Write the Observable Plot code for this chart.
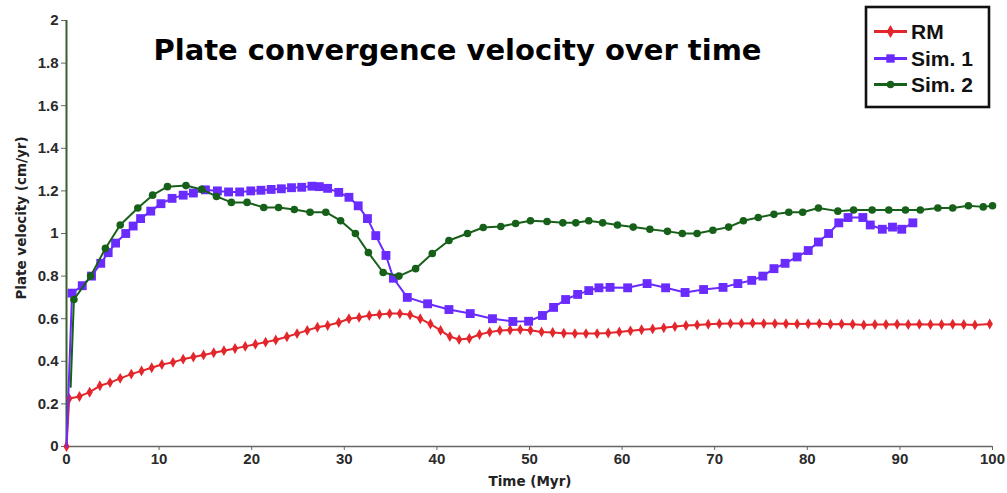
<!DOCTYPE html>
<html>
<head>
<meta charset="utf-8">
<script src="https://cdn.jsdelivr.net/npm/d3@7"></script>
<script src="https://cdn.jsdelivr.net/npm/@observablehq/plot@0.6"></script>
<style>
  body { margin: 0; background: white; }
  #wrap { position: relative; width: 1007px; height: 493px; }
  #title { position: absolute; left: 0; width: 915px; top: 36px; text-align: center;
           font: bold 29px "DejaVu Sans", sans-serif; line-height: 1; color: #000; white-space: nowrap; }
  #overlay { position: absolute; left: 0; top: 0; pointer-events: none; }
</style>
</head>
<body>
<div id="wrap">
  <div id="chart"></div>
  <div id="title">Plate convergence velocity over time</div>
  <svg id="overlay" width="1007" height="493"></svg>
</div>
<script>
// ---- data ----
const seriesNames = ["RM", "Sim. 1", "Sim. 2"];
const seriesColors = ["#e3262b", "#6a2bff", "#17601a"];
const xLabel = "Time (Myr)";
const yLabel = "Plate velocity (cm/yr)";

const rmTime = [0, 0.3, 1.4, 2.5, 3.6, 4.7, 5.8, 7.0, 8.1, 9.2, 10.3, 11.5, 12.6, 13.7, 14.8, 15.9, 17.0, 18.2, 19.3, 20.4, 21.5, 22.6, 23.8, 24.9, 26.0, 27.1, 28.2, 29.4, 30.5, 31.6, 32.7, 33.8, 34.9, 36.0, 37.1, 38.2, 39.3, 40.4, 41.4, 42.4, 43.5, 44.6, 45.7, 46.8, 47.9, 49.0, 50.1, 51.3, 52.5, 53.7, 54.9, 56.1, 57.3, 58.5, 59.7, 60.9, 62.1, 63.3, 64.5, 65.7, 66.9, 68.1, 69.3, 70.5, 71.7, 72.9, 74.1, 75.3, 76.5, 77.7, 78.9, 80.1, 81.3, 82.5, 83.7, 84.9, 86.1, 87.3, 88.5, 89.7, 90.9, 92.1, 93.3, 94.5, 95.7, 96.9, 98.1, 99.7];
const rmVel = [0, 0.225, 0.235, 0.255, 0.285, 0.30, 0.32, 0.34, 0.355, 0.37, 0.385, 0.395, 0.41, 0.42, 0.43, 0.44, 0.45, 0.46, 0.47, 0.48, 0.49, 0.50, 0.515, 0.53, 0.545, 0.56, 0.568, 0.582, 0.60, 0.606, 0.615, 0.62, 0.624, 0.624, 0.618, 0.60, 0.575, 0.545, 0.516, 0.502, 0.507, 0.526, 0.537, 0.545, 0.547, 0.549, 0.546, 0.538, 0.535, 0.532, 0.53, 0.53, 0.53, 0.533, 0.538, 0.543, 0.548, 0.552, 0.557, 0.563, 0.568, 0.571, 0.574, 0.576, 0.577, 0.578, 0.579, 0.577, 0.577, 0.576, 0.575, 0.576, 0.577, 0.574, 0.575, 0.574, 0.571, 0.573, 0.573, 0.574, 0.573, 0.574, 0.573, 0.573, 0.574, 0.573, 0.571, 0.575];

const sim1Time = [0, 0.6, 1.7, 2.7, 3.7, 4.5, 5.3, 6.4, 7.2, 8.0, 9.1, 10.2, 11.4, 12.6, 13.7, 15.0, 16.3, 17.5, 18.7, 19.9, 21.0, 22.1, 23.2, 24.3, 25.4, 26.5, 27.3, 28.2, 29.4, 30.5, 31.5, 32.5, 33.4, 34.5, 35.3, 36.8, 39.0, 41.3, 43.6, 46.0, 48.2, 49.9, 51.4, 52.6, 53.9, 55.2, 56.4, 57.5, 58.7, 60.6, 62.7, 64.7, 66.8, 68.8, 70.9, 72.5, 74.0, 75.2, 76.4, 77.6, 78.9, 80.1, 81.2, 82.3, 83.4, 84.4, 86.0, 86.8, 88.1, 89.2, 90.2, 91.4];
const sim1Vel = [0, 0.72, 0.755, 0.80, 0.86, 0.91, 0.955, 1.0, 1.035, 1.07, 1.105, 1.14, 1.165, 1.18, 1.19, 1.205, 1.20, 1.195, 1.195, 1.20, 1.203, 1.207, 1.21, 1.215, 1.217, 1.222, 1.22, 1.212, 1.193, 1.17, 1.13, 1.07, 0.99, 0.897, 0.79, 0.70, 0.67, 0.643, 0.624, 0.60, 0.587, 0.588, 0.615, 0.653, 0.69, 0.714, 0.732, 0.745, 0.747, 0.745, 0.765, 0.745, 0.723, 0.737, 0.747, 0.765, 0.78, 0.80, 0.835, 0.86, 0.89, 0.92, 0.96, 1.0, 1.05, 1.075, 1.075, 1.04, 1.02, 1.03, 1.02, 1.05];

const sim2Time = [0.45, 0.8, 2.6, 4.2, 5.8, 7.7, 9.3, 10.9, 12.9, 14.6, 16.2, 17.8, 19.5, 21.3, 22.9, 24.6, 26.3, 28.0, 29.6, 31.2, 32.6, 34.2, 35.9, 37.7, 39.5, 41.3, 43.3, 45.0, 46.9, 48.5, 50.1, 51.9, 53.6, 55.0, 56.4, 57.9, 59.5, 61.2, 63.0, 64.9, 66.5, 68.1, 69.8, 71.5, 73.1, 74.7, 76.4, 78.0, 79.5, 81.2, 83.3, 85.0, 87.0, 88.8, 90.6, 92.2, 94.1, 95.7, 97.4, 99.0, 100];
const sim2Vel = [0.28, 0.69, 0.80, 0.93, 1.04, 1.12, 1.18, 1.22, 1.225, 1.207, 1.174, 1.146, 1.146, 1.122, 1.122, 1.113, 1.10, 1.10, 1.06, 1.0, 0.91, 0.817, 0.80, 0.835, 0.906, 0.967, 1.0, 1.028, 1.033, 1.047, 1.06, 1.056, 1.05, 1.05, 1.06, 1.05, 1.04, 1.03, 1.02, 1.01, 1.0, 1.0, 1.015, 1.03, 1.06, 1.075, 1.09, 1.10, 1.10, 1.12, 1.105, 1.11, 1.11, 1.11, 1.11, 1.11, 1.12, 1.12, 1.13, 1.125, 1.13];

const xTicks = [0, 10, 20, 30, 40, 50, 60, 70, 80, 90, 100];
const yTicks = [0, 0.2, 0.4, 0.6, 0.8, 1, 1.2, 1.4, 1.6, 1.8, 2];

// ---- build tables ----
const rm = rmTime.map((t, i) => ({t, v: rmVel[i]}));
const sim1 = sim1Time.map((t, i) => ({t, v: sim1Vel[i]}));
const sim2 = sim2Time.map((t, i) => ({t, v: sim2Vel[i]}));

const W = 1007, H = 493, mL = 66, mR = 15, mT = 20, mB = 47;

const chart = Plot.plot({
  width: W,
  height: H,
  marginLeft: mL,
  marginRight: mR,
  marginTop: mT,
  marginBottom: mB,
  style: {fontFamily: "'Liberation Sans', Arial, sans-serif", fontSize: "15px", fontWeight: "bold", color: "#2a2a2a", background: "white", overflow: "visible"},
  x: {domain: [0, 100]},
  y: {domain: [0, 2]},
  marks: [
    Plot.ruleY([0], {stroke: "#666", strokeWidth: 1.5}),
    Plot.axisX({ticks: xTicks, tickSize: 4, tickPadding: 3, stroke: "#666", label: null, fontSize: 15}),
    Plot.axisY({ticks: yTicks, tickSize: 5, tickPadding: 3, stroke: "#666", tickFormat: d => String(d), label: null, fontSize: 15}),
    Plot.ruleX([0], {stroke: "#3b5f2e", strokeWidth: 2}),
    Plot.line(rm, {x: "t", y: "v", stroke: seriesColors[0], strokeWidth: 2}),
    Plot.dot(rm, {x: "t", y: "v", symbol: "diamond", r: 3.3, fill: seriesColors[0]}),
    Plot.line(sim1, {x: "t", y: "v", stroke: seriesColors[1], strokeWidth: 2}),
    Plot.dot(sim1.slice(1), {x: "t", y: "v", symbol: "square", r: 5, fill: seriesColors[1]}),
    Plot.line(sim2, {x: "t", y: "v", stroke: seriesColors[2], strokeWidth: 2}),
    Plot.dot(sim2.slice(1), {x: "t", y: "v", symbol: "circle", r: 3.8, fill: seriesColors[2]})
  ]
});
document.getElementById("chart").appendChild(chart);

// ---- axis labels and legend overlay ----
const ov = d3.select("#overlay");
ov.append("text").attr("x", 530).attr("y", 486).attr("text-anchor", "middle")
  .attr("font-family", "'DejaVu Sans', sans-serif").attr("font-weight", "bold")
  .attr("font-size", 13.5).attr("fill", "#222").text(xLabel);
ov.append("text").attr("transform", "translate(26,218) rotate(-90)").attr("text-anchor", "middle")
  .attr("font-family", "'DejaVu Sans', sans-serif").attr("font-weight", "bold")
  .attr("font-size", 13.5).attr("fill", "#222").text(yLabel);

ov.append("rect").attr("x", 866).attr("y", 7).attr("width", 123).attr("height", 100)
  .attr("fill", "white").attr("stroke", "#111").attr("stroke-width", 2.6);
const baselines = [38.5, 65.5, 91.5];
const syms = [d3.symbolDiamond, d3.symbolSquare, d3.symbolCircle];
const symSize = [50, 70, 45];
seriesNames.forEach((name, i) => {
  const y = baselines[i] - 7;
  ov.append("line").attr("x1", 874).attr("x2", 907).attr("y1", y).attr("y2", y)
    .attr("stroke", seriesColors[i]).attr("stroke-width", 3);
  ov.append("path").attr("d", d3.symbol(syms[i], symSize[i])())
    .attr("transform", `translate(890.5,${y})`).attr("fill", seriesColors[i]);
  ov.append("text").attr("x", 911).attr("y", baselines[i]).text(name)
    .attr("font-family", "'Liberation Sans', Arial, sans-serif").attr("font-weight", "bold")
    .attr("font-size", 21).attr("fill", "#111");
});
</script>
</body>
</html>
